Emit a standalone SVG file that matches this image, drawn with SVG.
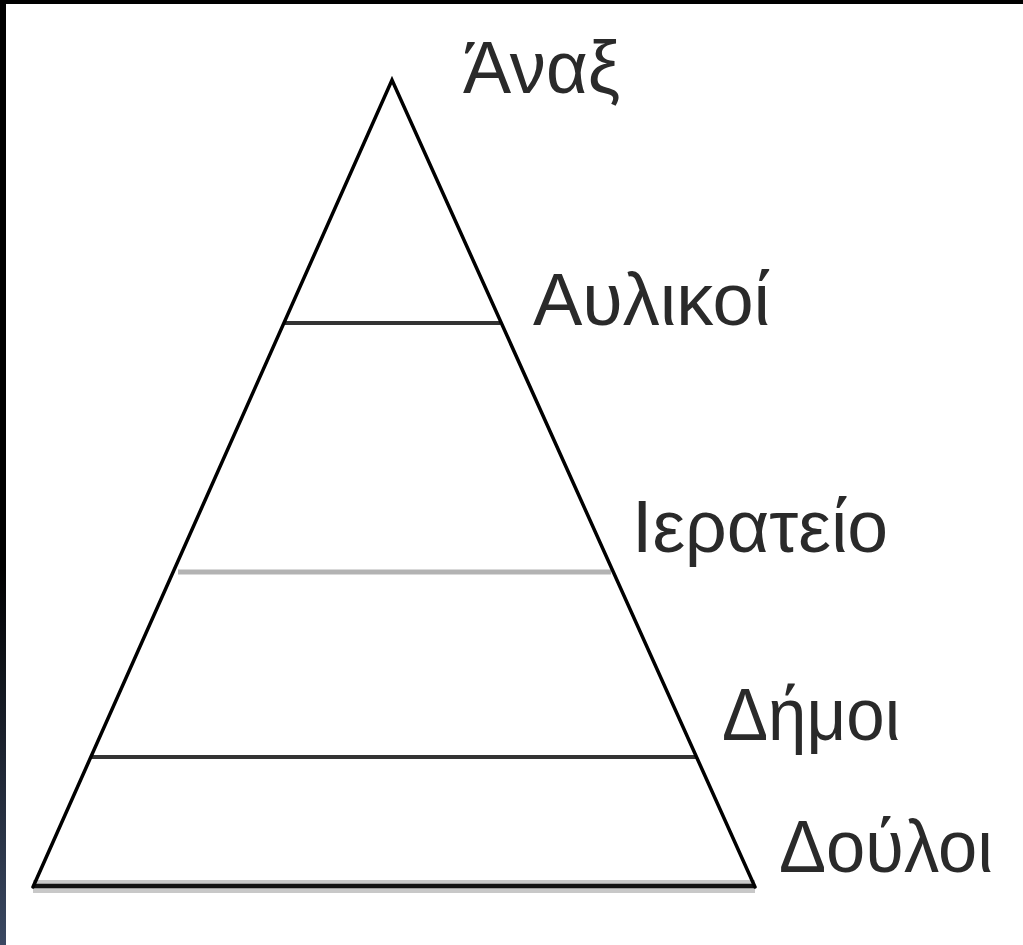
<svg xmlns="http://www.w3.org/2000/svg" width="1023" height="945" viewBox="0 0 1023 945">
  <style>
    .lbl { font-family: "Liberation Sans", "DejaVu Sans", sans-serif; font-size: 74px; fill: #2a2a2a; }
    .edge { stroke: #000; stroke-width: 3.5; fill: none; stroke-linecap: round; stroke-linejoin: miter; }
    .dark { stroke: #333; stroke-width: 4; }
    .grey { stroke: #b3b3b3; stroke-width: 5; }
  </style>
  <defs>
    <linearGradient id="sideband" x1="0" y1="0" x2="0" y2="1">
      <stop offset="0" stop-color="#000"/>
      <stop offset="0.6" stop-color="#000"/>
      <stop offset="1" stop-color="#3a4862"/>
    </linearGradient>
  </defs>
  <rect x="0" y="0" width="1023" height="945" fill="#fff"/>
  <rect x="0" y="0" width="1023" height="4" fill="#000"/>
  <rect x="0" y="0" width="6" height="945" fill="url(#sideband)"/>

  <g id="pyramid">
    <rect x="33" y="880" width="722" height="13" fill="#c8c8c8"/>
    <line x1="285" y1="323" x2="500" y2="323" class="dark"/>
    <line x1="178" y1="572" x2="611" y2="572" class="grey"/>
    <line x1="91" y1="757" x2="696" y2="757" class="dark"/>
    <line x1="33" y1="886" x2="755" y2="886" stroke="#111" stroke-width="4.5"/>
    <polyline points="33,887 392,80 755,887" class="edge"/>
  </g>

  <g id="connectors"></g>

  <g id="label-anax"><text class="lbl" x="463" y="93" textLength="157" lengthAdjust="spacingAndGlyphs">Άναξ</text></g>
  <g id="label-aulikoi"><text class="lbl" x="533" y="325" textLength="237" lengthAdjust="spacingAndGlyphs">Αυλικοί</text></g>
  <g id="label-ierateio"><text class="lbl" x="632" y="552" textLength="256" lengthAdjust="spacingAndGlyphs">Ιερατείο</text></g>
  <g id="label-dimoi"><text class="lbl" x="722" y="740" textLength="178" lengthAdjust="spacingAndGlyphs">Δήμοι</text></g>
  <g id="label-douloi"><text class="lbl" x="779" y="872" textLength="214" lengthAdjust="spacingAndGlyphs">Δούλοι</text></g>
</svg>
